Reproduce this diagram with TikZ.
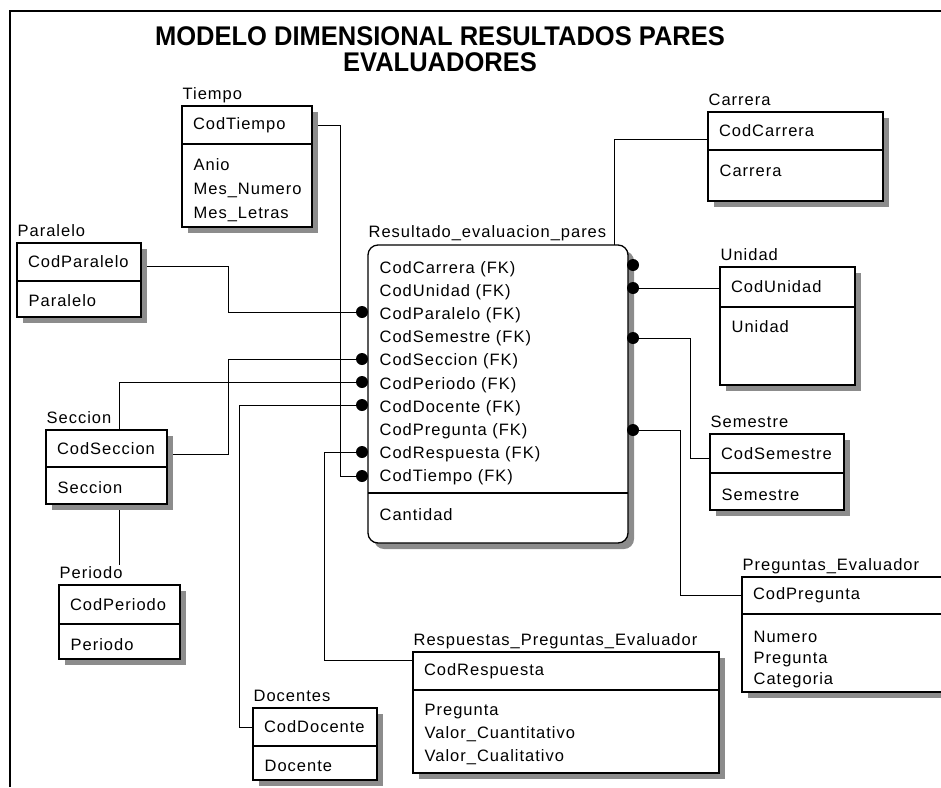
\documentclass[tikz,border=0pt]{standalone}
\usepackage{fontspec}
\setmainfont{Liberation Sans}[LetterSpace=6]
\newfontfamily\titlefont{Liberation Sans}
\usetikzlibrary{positioning,shadows,backgrounds}

\tikzset{
  every node/.style={font=\fontsize{16.5}{23.3}\selectfont, inner sep=0pt},
  shade box/.style={drop shadow={shadow xshift=6pt, shadow yshift=-6pt, fill=black!45, opacity=1}},
  keybox/.style={draw, fill=white, shade box, anchor=north west, outer sep=0pt,
    minimum height=38pt, inner xsep=11pt, align=left},
  bodybox/.style={draw, fill=white, shade box, anchor=north west, outer sep=0pt},
  tbltitle/.style={anchor=base west},
  attrs/.style={align=left},
  fkdot/.style={fill=black},
}

\begin{document}
\begin{tikzpicture}[x=1pt, y=-1pt, line width=1.3pt]
\clip (0,0) rectangle (941,787);

% marco
\draw[line width=1.6pt] (10,787) -- (10,11) -- (941,11);

% titulo
\node[font=\titlefont\bfseries\fontsize{27}{26}\selectfont, align=center] (title) at (440,49)
  {\scalebox{0.945}[1]{MODELO DIMENSIONAL RESULTADOS PARES}\\\scalebox{0.945}[1]{EVALUADORES}};

% tabla de hechos
\node[draw, fill=white, rounded corners=10pt, shade box, anchor=north west, outer sep=0pt,
  minimum width=260pt, minimum height=298pt] (main) at (368,245) {};
\draw ([yshift=-248pt]main.north west) -- ([yshift=-248pt]main.north east);
\node[tbltitle] (mainT) at ([yshift=8pt]main.north west) {Resultado\_evaluacion\_pares};
\node[attrs, font=\fontsize{16.5}{23.2}\selectfont, below right=15.5pt and 11pt of main.north west] (mainFK)
  {CodCarrera (FK)\\CodUnidad (FK)\\CodParalelo (FK)\\CodSemestre (FK)\\CodSeccion (FK)\\
   CodPeriodo (FK)\\CodDocente (FK)\\CodPregunta (FK)\\CodRespuesta (FK)\\CodTiempo (FK)};
\node[attrs, below right=262.5pt and 11pt of main.north west] (mainM) {Cantidad};

% Tiempo
\node[keybox, text width=108pt] (tiempoK) at (182,106) {CodTiempo};
\node[bodybox, minimum width=130pt, minimum height=83pt] (tiempoB) at (tiempoK.south west) {};
\node[attrs, below right=14pt and 11pt of tiempoB.north west, font=\fontsize{16.5}{24}\selectfont] (tiempoA)
  {Anio\\Mes\_Numero\\Mes\_Letras};
\node[tbltitle] (tiempoT) at ([yshift=7pt]tiempoK.north west) {Tiempo};

% Paralelo
\node[keybox, text width=102pt] (paraleloK) at (17,243) {CodParalelo};
\node[bodybox, minimum width=124pt, minimum height=36pt] (paraleloB) at (paraleloK.south west) {};
\node[attrs, below right=13pt and 11pt of paraleloB.north west] (paraleloA) {Paralelo};
\node[tbltitle] (paraleloT) at ([yshift=7pt]paraleloK.north west) {Paralelo};

% Carrera
\node[keybox, text width=153pt] (carreraK) at (708,112) {CodCarrera};
\node[bodybox, minimum width=175pt, minimum height=51pt] (carreraB) at (carreraK.south west) {};
\node[attrs, below right=14pt and 11pt of carreraB.north west] (carreraA) {Carrera};
\node[tbltitle] (carreraT) at ([yshift=7pt]carreraK.north west) {Carrera};

% Unidad
\node[keybox, text width=113pt, minimum height=40pt] (unidadK) at (720,267) {CodUnidad};
\node[bodybox, minimum width=135pt, minimum height=78pt] (unidadB) at (unidadK.south west) {};
\node[attrs, below right=13pt and 11pt of unidadB.north west] (unidadA) {Unidad};
\node[tbltitle] (unidadT) at ([yshift=7pt]unidadK.north west) {Unidad};

% Semestre
\node[keybox, text width=112pt, minimum height=39pt] (semestreK) at (710,434) {CodSemestre};
\node[bodybox, minimum width=134pt, minimum height=37pt] (semestreB) at (semestreK.south west) {};
\node[attrs, below right=15pt and 11pt of semestreB.north west] (semestreA) {Semestre};
\node[tbltitle] (semestreT) at ([yshift=7pt]semestreK.north west) {Semestre};

% Preguntas_Evaluador
\node[keybox, text width=183pt, minimum height=37pt] (preguntasK) at (742,577) {CodPregunta};
\node[bodybox, minimum width=205pt, minimum height=78pt] (preguntasB) at (preguntasK.south west) {};
\node[attrs, below right=16pt and 11pt of preguntasB.north west, font=\fontsize{16.5}{21}\selectfont] (preguntasA)
  {Numero\\Pregunta\\Categoria};
\node[tbltitle] (preguntasT) at ([yshift=7pt]preguntasK.north west) {Preguntas\_Evaluador};

% Periodo
\node[keybox, text width=99pt, minimum height=39pt] (periodoK) at (59,585) {CodPeriodo};
\node[bodybox, minimum width=121pt, minimum height=35pt] (periodoB) at (periodoK.south west) {};
\node[attrs, below right=14pt and 11pt of periodoB.north west] (periodoA) {Periodo};
\node[tbltitle] (periodoT) at ([yshift=7pt]periodoK.north west) {Periodo};

% Seccion
\node[keybox, text width=99pt, minimum height=37pt] (seccionK) at (46,430) {CodSeccion};
\node[bodybox, minimum width=121pt, minimum height=37pt] (seccionB) at (seccionK.south west) {};
\node[attrs, below right=14pt and 11pt of seccionB.north west] (seccionA) {Seccion};
\node[tbltitle] (seccionT) at ([yshift=7pt]seccionK.north west) {Seccion};

% Docentes
\node[keybox, text width=102pt] (docentesK) at (253,708) {CodDocente};
\node[bodybox, minimum width=124pt, minimum height=34pt] (docentesB) at (docentesK.south west) {};
\node[attrs, below right=13pt and 11pt of docentesB.north west] (docentesA) {Docente};
\node[tbltitle] (docentesT) at ([yshift=7pt]docentesK.north west) {Docentes};

% Respuestas_Preguntas_Evaluador
\node[keybox, text width=284pt] (respuestasK) at (413,652) {CodRespuesta};
\node[bodybox, minimum width=306pt, minimum height=83pt] (respuestasB) at (respuestasK.south west) {};
\node[attrs, below right=13pt and 11pt of respuestasB.north west, font=\fontsize{16.5}{23}\selectfont] (respuestasA)
  {Pregunta\\Valor\_Cuantitativo\\Valor\_Cualitativo};
\node[tbltitle] (respuestasT) at ([yshift=7pt]respuestasK.north west) {Respuestas\_Preguntas\_Evaluador};

% puntos de las claves foraneas
\coordinate (fkCarrera) at (633,265);
\coordinate (fkUnidad) at (633,288);
\coordinate (fkParalelo) at (362,312);
\coordinate (fkSemestre) at (633,338);
\coordinate (fkSeccion) at (362,359);
\coordinate (fkPeriodo) at (362,382);
\coordinate (fkDocente) at (362,405);
\coordinate (fkPregunta) at (633,430);
\coordinate (fkRespuesta) at (362,452);
\coordinate (fkTiempo) at (362,476);

\foreach \p in {fkCarrera,fkUnidad,fkParalelo,fkSemestre,fkSeccion,fkPeriodo,fkDocente,fkPregunta,fkRespuesta,fkTiempo}
  \fill[fkdot] (\p) circle[radius=6pt];

% relaciones
\begin{pgfonlayer}{background}
\draw (tiempoK.east) -- ++(28,0) |- (fkTiempo);
\draw ([yshift=-4pt]paraleloK.east) -- ++(87,0) |- (fkParalelo);
\draw ([yshift=-6pt]seccionK.east) -- ++(61,0) |- (fkSeccion);
\draw (fkPeriodo) -| (periodoT.north -| periodoK.north);
\draw (docentesK.west) -- ++(-14,0) |- (fkDocente);
\draw ([yshift=-8pt]respuestasK.north west) -- ++(-89,0) |- (fkRespuesta);
\draw ([yshift=-8pt]carreraK.west) -| ([xshift=-14pt]main.north east);
\draw (fkUnidad) -- (fkUnidad -| unidadK.west);
\draw (fkSemestre) -- ++(57,0) |- ([yshift=-5pt]semestreK.west);
\draw (fkPregunta) -- ++(47,0) |- (preguntasK.west);
\end{pgfonlayer}
\end{tikzpicture}
\end{document}
